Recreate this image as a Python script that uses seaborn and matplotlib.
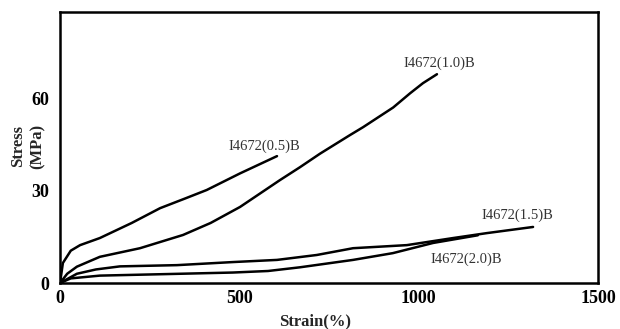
import numpy as np
import pandas as pd
import matplotlib
matplotlib.use("Agg")
import matplotlib.pyplot as plt
import seaborn as sns

# ---- data ----
x05 = [0, 8, 30, 56, 111, 200, 279, 350, 409, 502, 605]
y05 = [0, 6.5, 10.5, 12.3, 14.6, 19.5, 24.3, 27.5, 30.2, 35.6, 41.2]

x10 = [0, 20, 47, 111, 223, 343, 420, 502, 613, 669, 725, 808, 845, 929, 976, 1012, 1051]
y10 = [0, 3.0, 5.3, 8.5, 11.3, 15.6, 19.5, 24.7, 33.4, 37.6, 42.0, 48.0, 50.6, 57.0, 61.6, 64.9, 67.8]

x15 = [0, 47, 100, 167, 326, 482, 605, 716, 817, 967, 1096, 1190, 1319]
y15 = [0, 3.0, 4.4, 5.4, 5.8, 6.8, 7.5, 9.1, 11.3, 12.3, 14.6, 16.2, 18.2]

x20 = [0, 30, 111, 298, 482, 580, 669, 817, 928, 1040, 1165]
y20 = [0, 1.5, 2.4, 2.9, 3.4, 3.9, 5.1, 7.5, 9.7, 13.0, 15.5]

series_names = ["I4672(0.5)B", "I4672(1.0)B", "I4672(1.5)B", "I4672(2.0)B"]
label_x = [571, 1059, 1274, 1134]
label_y = [44.4, 71.4, 22.0, 7.8]

x_ticks = [0, 500, 1000, 1500]
y_ticks = [0, 30, 60]

frames = []
for name, xs, ys in zip(series_names, [x05, x10, x15, x20], [y05, y10, y15, y20]):
    frames.append(pd.DataFrame({"strain": xs, "stress": ys, "sample": name}))
df = pd.concat(frames, ignore_index=True)

sns.set_style("white")
plt.rcParams["font.family"] = ["Liberation Serif", "DejaVu Serif"]

fig = plt.figure(figsize=(6.2, 3.29), dpi=100)
ax = fig.add_axes([0.0968, 0.1398, 0.8677, 0.8237])

sns.lineplot(data=df, x="strain", y="stress", hue="sample", units="sample",
             estimator=None, sort=False, palette=["black"] * 4,
             linewidth=1.8, legend=False, ax=ax)

for name, lx, ly in zip(series_names, label_x, label_y):
    ax.text(lx, ly, name, ha="center", va="center", fontsize=10.5, color="#333333")

ax.set_xlim(0, 1500)
ax.set_ylim(0, 88)
ax.set_xticks(x_ticks)
ax.set_yticks(y_ticks)
ax.set_xticklabels([str(t) for t in x_ticks], fontsize=13, fontweight="bold")
ax.set_yticklabels([str(t) for t in y_ticks], fontsize=13, fontweight="bold")
ax.tick_params(axis="y", direction="in", length=11, width=1.5, pad=8, colors="black")
ax.tick_params(axis="x", direction="in", length=11, width=1.5, pad=5, colors="black")
for s in ax.spines.values():
    s.set_linewidth(1.8)
    s.set_color("black")
ax.set_xlabel("")
ax.set_ylabel("")

fig.text(0.508, 0.024, "Strain(%)", ha="center", va="center", fontsize=12, fontweight="bold")
fig.text(0.045, 0.556, "Stress\n(MPa)", ha="center", va="center", rotation=90,
         fontsize=12, fontweight="bold", linespacing=1.35)

fig.savefig("out.png", dpi=100)
